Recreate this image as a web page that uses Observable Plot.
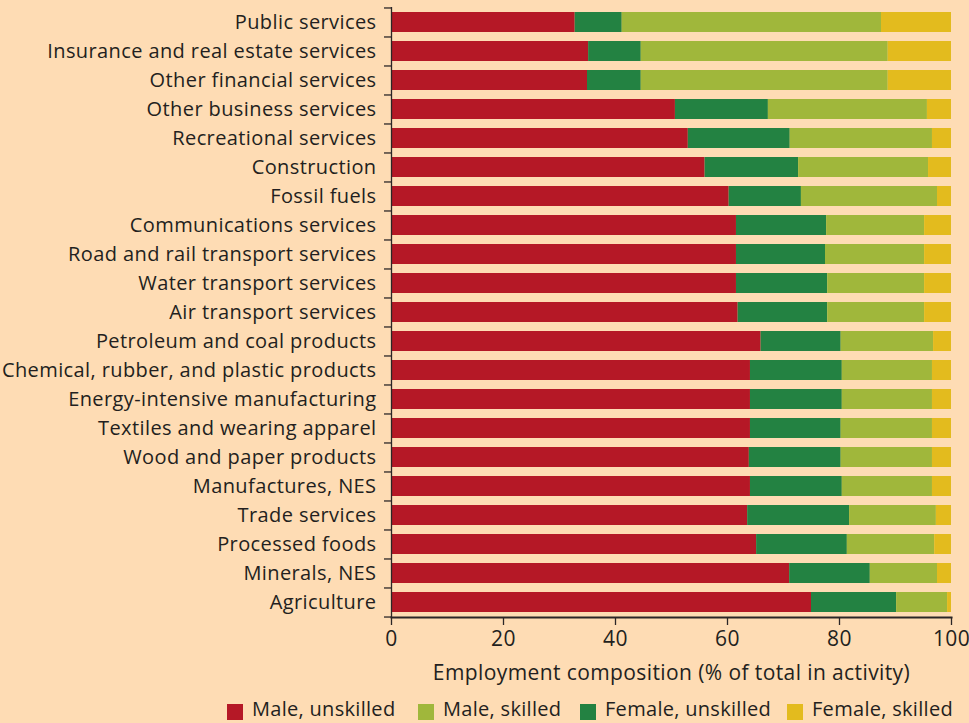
<!DOCTYPE html>
<html>
<head>
<meta charset="utf-8">
<script src="https://cdn.jsdelivr.net/npm/d3@7"></script>
<script src="https://cdn.jsdelivr.net/npm/@observablehq/plot@0.6"></script>
<style>
  html, body { margin: 0; padding: 0; background: #fedcb4; }
  #chart { width: 969px; height: 723px; overflow: hidden; font-family: "Open Sans", sans-serif; color: #231f20; }
  #legend { position: relative; height: 31px; font-size: 20px; letter-spacing: 0.3px; }
  .sw { position: absolute; top: 12px; width: 16px; height: 16px; }
  .lbl { position: absolute; top: 7px; line-height: 20px; white-space: nowrap; }
</style>
</head>
<body>
<div id="chart"></div>
<script>
const categories = [
  "Public services",
  "Insurance and real estate services",
  "Other financial services",
  "Other business services",
  "Recreational services",
  "Construction",
  "Fossil fuels",
  "Communications services",
  "Road and rail transport services",
  "Water transport services",
  "Air transport services",
  "Petroleum and coal products",
  "Chemical, rubber, and plastic products",
  "Energy-intensive manufacturing",
  "Textiles and wearing apparel",
  "Wood and paper products",
  "Manufactures, NES",
  "Trade services",
  "Processed foods",
  "Minerals, NES",
  "Agriculture"
];
const maleUnskilled   = [32.8, 35.2, 35.0, 50.7, 53.0, 56.0, 60.3, 61.6, 61.6, 61.6, 61.9, 66.0, 64.1, 64.1, 64.1, 63.9, 64.1, 63.6, 65.2, 71.1, 75.0];
const femaleUnskilled = [8.4, 9.4, 9.6, 16.6, 18.2, 16.7, 12.9, 16.1, 15.9, 16.3, 16.0, 14.3, 16.4, 16.4, 16.2, 16.4, 16.4, 18.2, 16.2, 14.4, 15.2];
const maleSkilled     = [46.3, 44.1, 44.1, 28.4, 25.4, 23.2, 24.3, 17.5, 17.7, 17.3, 17.3, 16.5, 16.1, 16.1, 16.3, 16.3, 16.1, 15.5, 15.6, 12.0, 9.1];
const femaleSkilled   = [12.5, 11.3, 11.3, 4.3, 3.4, 4.1, 2.5, 4.8, 4.8, 4.8, 4.8, 3.2, 3.4, 3.4, 3.4, 3.4, 3.4, 2.7, 3.0, 2.5, 0.7];

const seriesNames = ["Male, unskilled", "Male, skilled", "Female, unskilled", "Female, skilled"];
const seriesColors = ["#b51826", "#a0b73b", "#238242", "#e3bb1e"];
const stackOrder = ["Male, unskilled", "Female, unskilled", "Male, skilled", "Female, skilled"];
const xTicks = [0, 20, 40, 60, 80, 100];
const xLabel = "Employment composition (% of total in activity)";

const valuesBySeries = {
  "Male, unskilled": maleUnskilled,
  "Male, skilled": maleSkilled,
  "Female, unskilled": femaleUnskilled,
  "Female, skilled": femaleSkilled
};
const rows = [];
categories.forEach((c, i) => {
  for (const s of stackOrder) rows.push({category: c, series: s, value: valuesBySeries[s][i]});
});

const W = 969, H = 692, mTop = 7, mBottom = 75, mLeft = 391, mRight = 18;
const step = (H - mTop - mBottom) / categories.length;
const axisColor = "#2b2627";

const plot = Plot.plot({
  width: W,
  height: H,
  marginTop: mTop,
  marginBottom: mBottom,
  marginLeft: mLeft,
  marginRight: mRight,
  style: {background: "transparent", fontFamily: "'Open Sans', sans-serif", color: "#231f20", overflow: "visible", letterSpacing: "0.4px"},
  x: {domain: [0, 100]},
  y: {domain: categories, paddingInner: 0.31, paddingOuter: 0.155},
  color: {domain: seriesNames, range: seriesColors},
  marks: [
    Plot.barX(rows, {x: "value", y: "category", fill: "series", order: stackOrder}),
    Plot.ruleX([0], {stroke: axisColor, strokeWidth: 1.3}),
    Plot.frame({anchor: "bottom", stroke: axisColor, strokeWidth: 2}),
    Plot.axisX({
      ticks: xTicks, tickSize: 8, tickPadding: 6, fontSize: 21, stroke: axisColor, strokeWidth: 1.3,
      label: null
    }),
    Plot.text([xLabel], {frameAnchor: "bottom", dy: 56, fontSize: 21, lineAnchor: "middle", fill: "#231f20"}),
    Plot.axisY({tickSize: 0, tickPadding: 15, fontSize: 20, label: null}),
    Plot.axisY({tickSize: 7, tickFormat: () => "", dy: -step / 2, label: null, stroke: axisColor, strokeWidth: 1.3}),
    Plot.axisY({ticks: [categories[categories.length - 1]], tickSize: 7, tickFormat: () => "", dy: step / 2, label: null, stroke: axisColor, strokeWidth: 1.3})
  ]
});

const chart = document.getElementById("chart");
chart.appendChild(plot);

const legend = document.createElement("div");
legend.id = "legend";
const legendLefts = [227, 418, 580, 787];
seriesNames.forEach((name, i) => {
  const sw = document.createElement("span");
  sw.className = "sw";
  sw.style.left = legendLefts[i] + "px";
  sw.style.background = seriesColors[i];
  const lbl = document.createElement("span");
  lbl.className = "lbl";
  lbl.style.left = (legendLefts[i] + 25) + "px";
  lbl.textContent = name;
  legend.appendChild(sw);
  legend.appendChild(lbl);
});
chart.appendChild(legend);
</script>
</body>
</html>
